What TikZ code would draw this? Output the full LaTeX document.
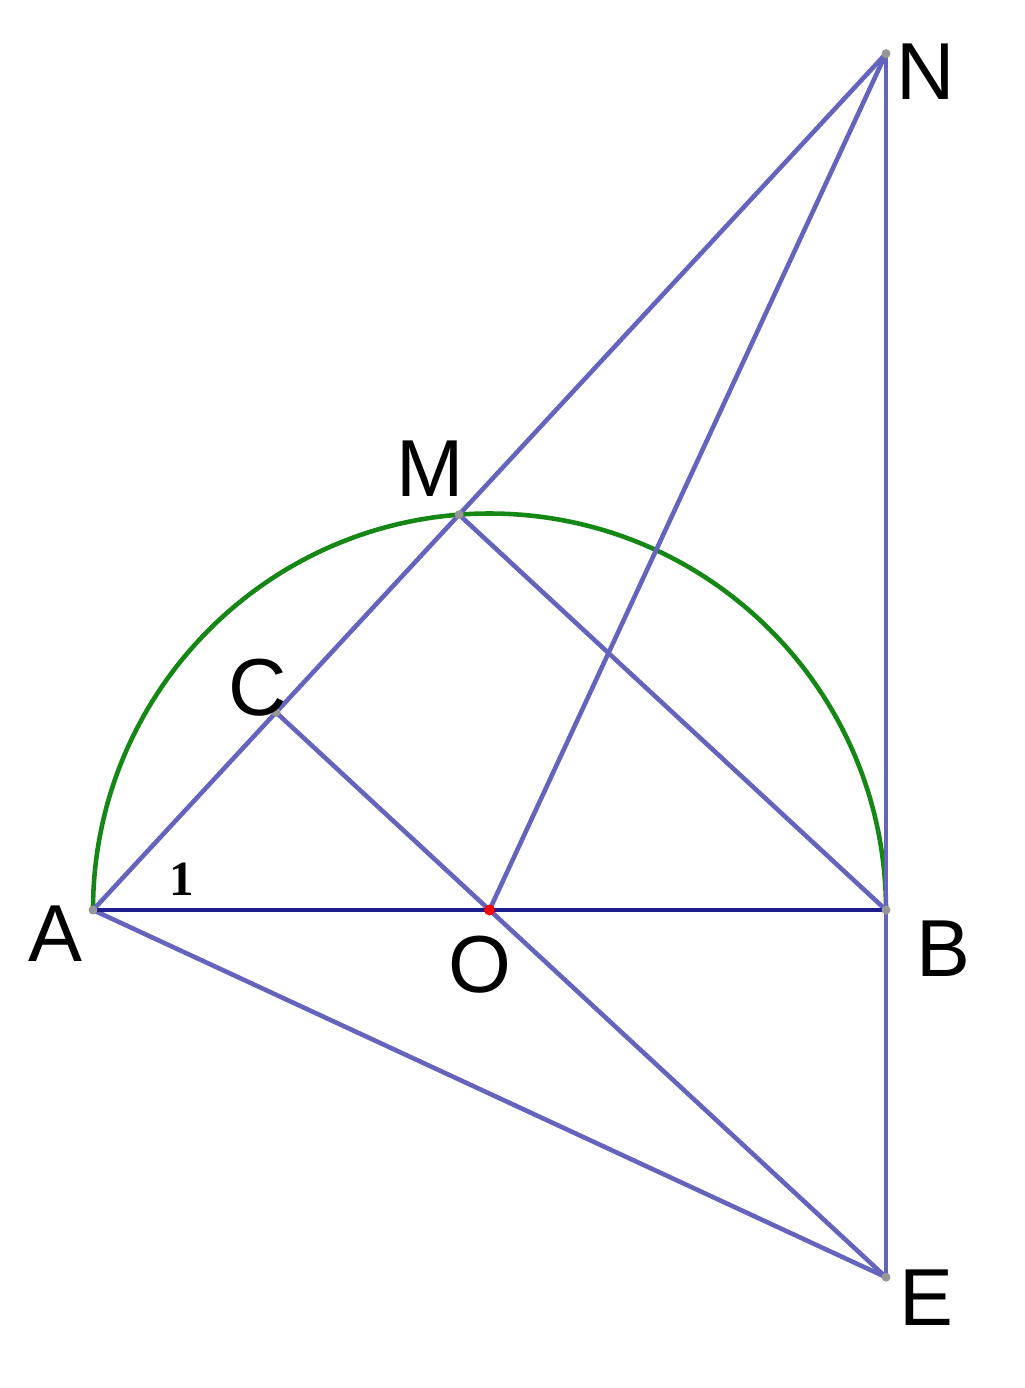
\documentclass[tikz,border=0pt]{standalone}
\usepackage{fontspec}
\setmainfont{Liberation Sans}
\newfontfamily\numfont{Liberation Serif}
\usepackage{tikz}
\usetikzlibrary{calc}

\definecolor{segblue}{RGB}{100,100,190}
\definecolor{basblue}{RGB}{28,28,140}
\definecolor{arcgreen}{RGB}{20,135,20}
\definecolor{ptgray}{RGB}{150,150,150}

\tikzset{
  seg/.style={segblue, line width=1.3pt},
  ptlabel/.style={font=\fontsize{23}{27}\selectfont, inner sep=0pt},
  dotpt/.style={fill=ptgray, draw=none}
}

\begin{document}
\begin{tikzpicture}
  \useasboundingbox (0,0) rectangle (10.24,-13.88);

  % Points
  \coordinate (A) at (0.93,-9.10);
  \coordinate (B) at (8.86,-9.10);
  \coordinate (O) at (4.895,-9.10);
  \coordinate (M) at ($(O)+(94.4:3.965)$);
  \coordinate (C) at ($(A)!0.5!(M)$);
  \coordinate (N) at (8.86,-0.536);
  \coordinate (E) at (8.86,-12.772);

  % Semicircle
  \draw [arcgreen, line width=1.3pt] (B) arc (0:180:3.965);

  % Segments
  \draw [seg] (A) -- (N);
  \draw [seg] (N) -- (E);
  \draw [seg] (N) -- (O);
  \draw [seg] (M) -- (B);
  \draw [seg] (C) -- (E);
  \draw [seg] (A) -- (E);
  \draw [basblue, line width=1.4pt] (A) -- (B);

  % Dots
  \foreach \p in {A,B,M,C,N,E}
    \fill [dotpt] (\p) circle (0.045);
  \fill [red] (O) circle (0.055);

  % Labels
  \node [ptlabel] (labA) at (0.55,-9.34) {A};
  \node [ptlabel] (labB) at (9.43,-9.49) {B};
  \node [ptlabel] (labO) at (4.80,-9.65) {O};
  \node [ptlabel] (labM) at (4.30,-4.69) {M};
  \node [ptlabel] (labC) at (2.58,-6.88) {C};
  \node [ptlabel] (labN) at (9.26,-0.72) {N};
  \node [ptlabel] (labE) at (9.26,-12.98) {E};
  \node [inner sep=0pt, font=\numfont\bfseries\fontsize{14}{16}\selectfont]
    (ang) at (1.82,-8.79) {1};
\end{tikzpicture}
\end{document}
